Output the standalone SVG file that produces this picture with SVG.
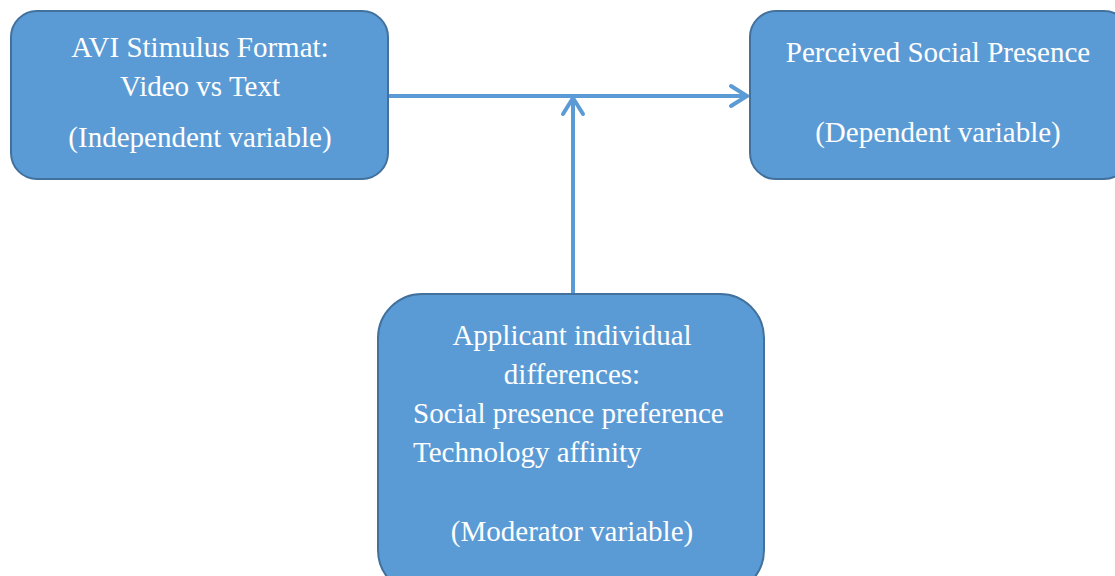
<svg xmlns="http://www.w3.org/2000/svg" width="1115" height="576" viewBox="0 0 1115 576">
<style>
.box{fill:#5B9BD5;stroke:#41719C;stroke-width:2}
.t{font-family:"Liberation Serif","Times New Roman",serif;font-size:29px;fill:#fff}
.c{text-anchor:middle}
.conn{stroke:#5B9BD5;stroke-width:4;fill:none}
.head{stroke:#5B9BD5;stroke-width:4;fill:none;stroke-linecap:round;stroke-linejoin:miter}
</style>
<rect width="1115" height="576" fill="#fff"/>
<g id="connectors">
<line class="conn" x1="388" y1="96" x2="746" y2="96"/>
<polyline class="head" points="731,86 747,96 731,106"/>
<line class="conn" x1="573" y1="294" x2="573" y2="98"/>
<polyline class="head" points="563,114 573,98 583,114"/>
</g>
<g id="independent">
<rect class="box" x="11" y="11" width="377" height="168" rx="26"/>
<text class="t c" x="200" y="57">AVI Stimulus Format:</text>
<text class="t c" x="200" y="96">Video vs Text</text>
<text class="t c" x="200" y="147">(Independent variable)</text>
</g>
<g id="dependent">
<rect class="box" x="750" y="11" width="380" height="168" rx="26"/>
<text class="t c" x="938" y="62">Perceived Social Presence</text>
<text class="t c" x="938" y="142">(Dependent variable)</text>
</g>
<g id="moderator">
<rect class="box" x="378" y="294" width="386" height="300" rx="44"/>
<text class="t c" x="572" y="345">Applicant individual</text>
<text class="t c" x="572" y="384">differences:</text>
<text class="t" x="413" y="423">Social presence preference</text>
<text class="t" x="413" y="462">Technology affinity</text>
<text class="t c" x="572" y="541">(Moderator variable)</text>
</g>
</svg>
